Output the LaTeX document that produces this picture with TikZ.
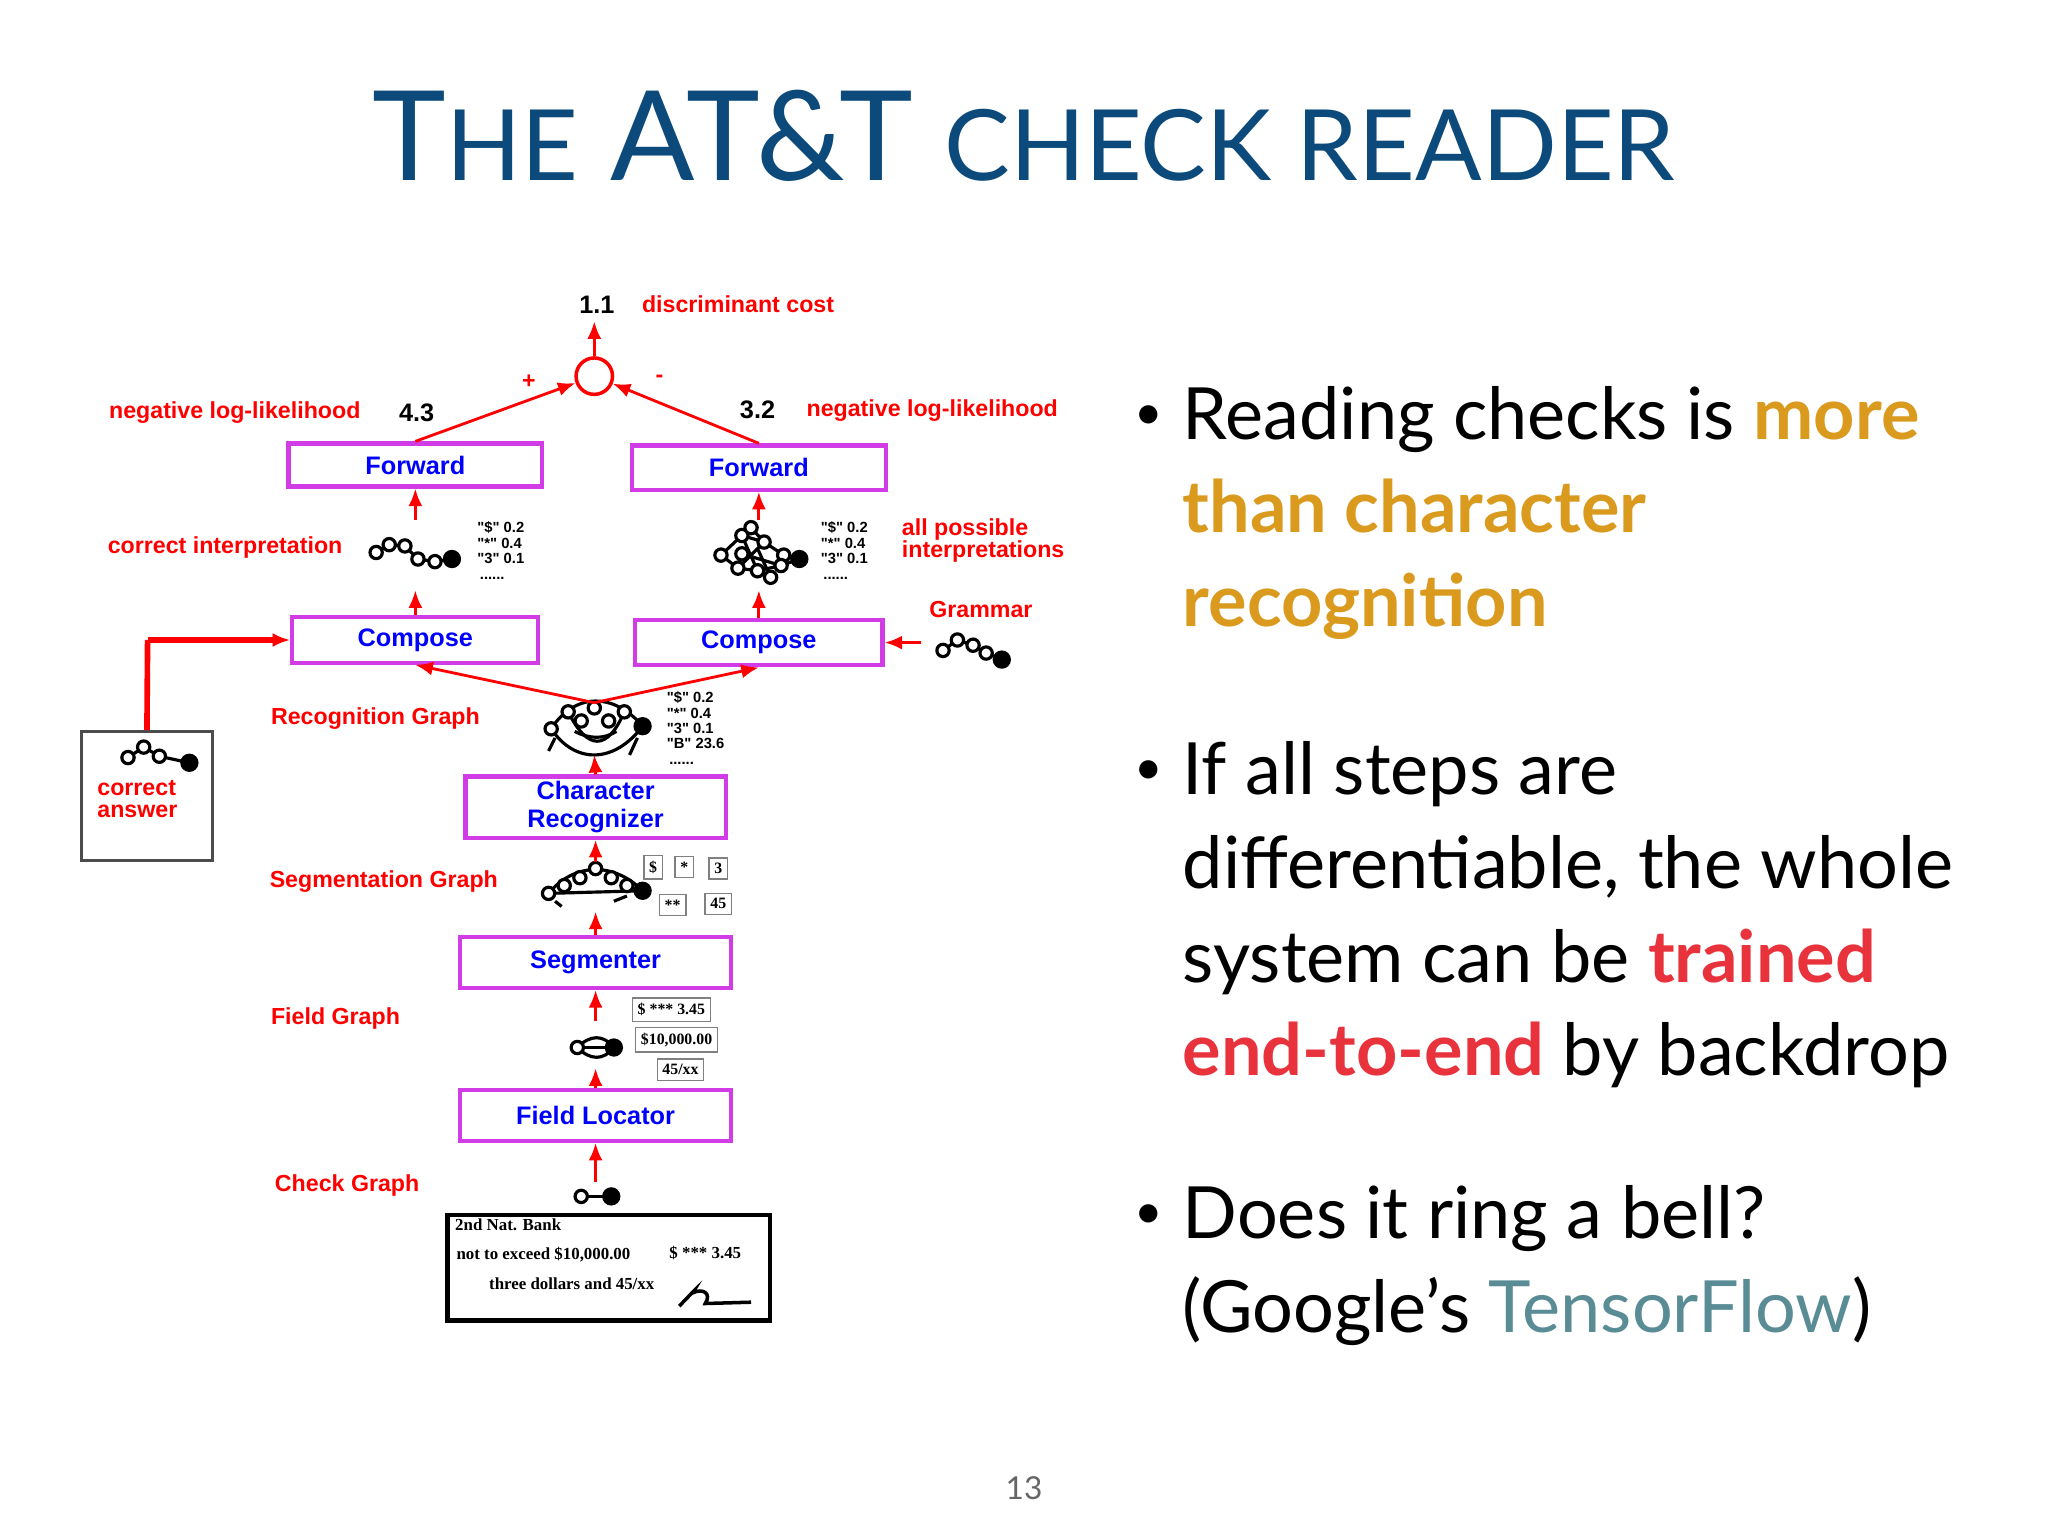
\documentclass[tikz,border=0pt]{standalone}
\usepackage{fontspec}
\setmainfont{Lato}
\newfontfamily\hv{Liberation Sans}
\newfontfamily\tm{Liberation Serif}
\usetikzlibrary{arrows.meta}
\definecolor{ttl}{HTML}{0B4A7A}
\definecolor{gold}{HTML}{D99A1E}
\definecolor{tred}{HTML}{E8323C}
\definecolor{tf}{HTML}{5A8C96}
\definecolor{mag}{HTML}{D23CE6}
\def\U{0.37034pt}
\begin{document}
\begin{tikzpicture}[x=0.013061cm,y=-0.013061cm,
  box/.style={draw=mag,line width=1.2pt,fill=white,font=\hv\bfseries\fontsize{7.2}{7.6}\selectfont,text=blue,align=center,inner sep=0pt},
  lab/.style={font=\hv\bfseries\fontsize{6.6}{7.2}\selectfont,text=red,align=left,inner sep=0pt},
  num/.style={font=\hv\bfseries\fontsize{7.2}{8}\selectfont,inner sep=0pt},
  sm/.style={font=\hv\bfseries\fontsize{4.2}{4.4}\selectfont,align=left,inner sep=0pt},
  arr/.style={draw=red,line width=0.8pt,-{Latex[length=5pt,width=4pt]}},
  nd/.style={circle,draw,line width=0.9pt,inner sep=0pt,minimum size=3.5pt,fill=white},
  ndf/.style={circle,draw,fill=black,inner sep=0pt,minimum size=4.3pt},
  bul/.style={font=\fontsize{20.5}{26.7}\selectfont,align=left,anchor=north west,inner sep=0pt},
  dot/.style={font=\fontsize{14}{16}\selectfont,anchor=north west,inner sep=0pt}]
\useasboundingbox (0,0) rectangle (1568,1176);
\fill[white] (0,0) rectangle (1568,1176);
% title
\node[text=ttl,anchor=base,inner sep=0pt] (title) at (784,138) {\fontsize{35.5}{38}\selectfont T{\fontsize{28}{30}\selectfont HE} AT\&T {\fontsize{28}{30}\selectfont CHECK READER}};
% boxes
\node[box,minimum width=195*\U,minimum height=33*\U] (fl) at (318,356) {Forward};
\node[box,minimum width=195*\U,minimum height=34*\U] (fr) at (581,358) {Forward};
\node[box,minimum width=189*\U,minimum height=35*\U] (cl) at (318,490) {Compose};
\node[box,minimum width=190*\U,minimum height=35*\U] (cr) at (581,492) {Compose};
\node[box,minimum width=200*\U,minimum height=47*\U,font=\hv\bfseries\fontsize{7.2}{7.8}\selectfont] (chr) at (456,618) {Character\\Recognizer};
\node[box,minimum width=208*\U,minimum height=39*\U] (seg) at (456,737) {Segmenter};
\node[box,minimum width=208*\U,minimum height=39*\U] (flo) at (456,854) {Field Locator};
\node[circle,draw=red,line width=1pt,minimum size=28*\U,inner sep=0pt] (sum) at (455,288) {};
\coordinate (top) at (455,246);
% labels
\node[num,anchor=west] (n11) at (443,233) {1.1};
\node[lab,anchor=west] (dc) at (491,233) {discriminant cost};
\node[lab] (plus) at (405,292) {+};
\node[lab] (minus) at (505,290) {-};
\node[lab,anchor=west] (nll1) at (83,316) {negative log-likelihood};
\node[num,anchor=west] (n43) at (305,316) {4.3};
\node[num,anchor=west] (n32) at (566,314) {3.2};
\node[lab,anchor=west] (nll2) at (617,314) {negative log-likelihood};
\node[lab,anchor=west] (ci) at (82,419) {correct interpretation};
\node[lab,anchor=west] (api) at (690,414) {all possible\\[-1pt]interpretations};
\node[lab,anchor=west] (gram) at (711,467) {Grammar};
\node[lab,anchor=west] (rg) at (207,550) {Recognition Graph};
\node[lab,anchor=west] (sg) at (206,675) {Segmentation Graph};
\node[lab,anchor=west] (fg) at (207,780) {Field Graph};
\node[lab,anchor=west] (cg) at (210,908) {Check Graph};
% score lists
\node[sm,anchor=north west] (s1) at (365,399) {"\$" 0.2\\"*" 0.4\\"3" 0.1\\\,......};
\node[sm,anchor=north west] (s2) at (628,399) {"\$" 0.2\\"*" 0.4\\"3" 0.1\\\,......};
\node[sm,anchor=north west] (s3) at (510,529) {"\$" 0.2\\"*" 0.4\\"3" 0.1\\"B" 23.6\\\,......};
% correct answer box
\node[draw=black!70,line width=0.9pt,minimum width=101*\U,minimum height=99*\U,inner sep=0pt] (ca) at (112.5,609.5) {};
\node[lab,anchor=north west] (cat) at (74,597) {correct\\[-1pt]answer};
\coordinate (cabend) at (113,490);
% graph glyphs
\begin{scope}[line width=0.9pt]
 \draw (288,423)--(298,417)--(310,418)--(320,428)--(333,430)--(346,428);
 \foreach \p in {(288,423),(298,417),(310,418),(320,428),(333,430)} \node[nd] at \p {};
 \node[ndf] (gci) at (346,428) {};
 \draw (552,425)--(568,410)--(585,415)--(600,425)--(612,428) (552,425)--(565,435)--(580,437)--(598,433)--(612,428) (568,410)--(580,437) (585,415)--(565,435) (575,404)--(585,415) (568,424)--(598,433) (580,420)--(590,442);
 \foreach \p in {(552,425),(568,410),(585,415),(600,425),(565,435),(580,437),(598,433),(575,404),(568,424),(590,442)} \node[nd] at \p {};
 \node[ndf] (gap) at (612,428) {};
 \draw (722,498)--(733,490)--(745,494)--(755,500)--(767,505);
 \foreach \p in {(722,498),(733,490),(745,494),(755,500)} \node[nd] at \p {};
 \node[ndf] (gg) at (767,505) {};
 \draw (98,580)--(110,572)--(122,579)--(145,584);
 \foreach \p in {(98,580),(110,572),(122,579)} \node[nd] at \p {};
 \node[ndf] (gca) at (145,584) {};
 % recognition graph
 \draw (422,558) .. controls (440,530) and (470,530) .. (492,556);
 \draw (422,558) .. controls (440,585) and (470,585) .. (492,556);
 \draw (435,545) .. controls (450,575) and (465,575) .. (478,545);
 \draw (440,560) .. controls (452,566) and (462,566) .. (472,560);
 \draw (425,565)--(420,575) (488,565)--(482,578);
 \foreach \p in {(422,558),(435,545),(455,542),(478,545),(445,552),(466,552)} \node[nd] at \p {};
 \node[ndf] (grg) at (492,556) {};
 \coordinate (rgtop) at (455,538);
 % segmentation graph
 \draw (420,684) .. controls (440,660) and (470,660) .. (492,682);
 \draw (420,684)--(492,682);
 \draw (425,690)--(430,694) (470,690)--(480,686);
 \foreach \p in {(420,684),(432,678),(444,672),(456,665),(468,672),(480,678)} \node[nd] at \p {};
 \node[ndf] (gsg) at (492,682) {};
 \coordinate (sgtop) at (456,660);
 % field graph
 \draw (442,802) .. controls (452,792) and (462,792) .. (470,802) .. controls (462,812) and (452,812) .. (442,802);
 \draw (442,802)--(470,802);
 \node[nd] at (442,802) {};
 \node[ndf] (gfg) at (470,802) {};
 \coordinate (fgtop) at (456,782);
 \coordinate (fgbot) at (456,818);
 % check graph
 \draw (445,916)--(468,916);
 \node[nd] at (445,916) {};
 \node[ndf] (gcg) at (468,916) {};
\end{scope}
% segment image boxes
\begin{scope}[every node/.style={draw=black!50,line width=0.4pt,font=\tm\bfseries\fontsize{4.5}{5}\selectfont,inner sep=1.5pt,minimum height=14*\U}]
 \node (b1) at (500,664) {\$};
 \node (b2) at (524,664) {*};
 \node (b3) at (550,665) {3};
 \node (b4) at (515,693) {**};
 \node (b5) at (550,692) {45};
 \node (f1) at (514,773) {\$ *** 3.45};
 \node (f2) at (518,796) {\$10,000.00};
 \node (f3) at (521,819) {45/xx};
\end{scope}
% check
\node[draw,line width=1.3pt,minimum width=248*\U,minimum height=81*\U,inner sep=0pt] (chk) at (466,970.5) {};
\begin{scope}[every node/.style={font=\tm\bfseries\fontsize{4.8}{5}\selectfont,inner sep=0pt,anchor=west}]
 \node (c1) at (348,938) {2nd Nat. Bank};
 \node (c2) at (349,961) {not to exceed \$10,000.00};
 \node (c3) at (512,959) {\$ *** 3.45};
 \node (c4) at (374,983) {three dollars and 45/xx};
\end{scope}
\draw[line width=1pt] (520,1000) .. controls (528,992) and (534,985) .. (530,990) .. controls (538,986) and (545,990) .. (540,998) -- (575,997);
% arrows
\draw[arr] (fl.north) -- (sum);
\draw[arr] (fr.north) -- (sum);
\draw[arr] (sum) -- (top);
\draw[arr] (318,398) -- (fl.south);
\draw[arr] (581,398) -- (fr.south);
\draw[arr] (cl.north) -- (318,452);
\draw[arr] (cr.north) -- (581,452);
\draw[arr] (rgtop) -- (cl.south);
\draw[arr] (rgtop) -- (cr.south);
\draw[arr] (705,492) -- (cr.east);
\draw[red,line width=1.6pt] (ca.north) -- (cabend);
\draw[arr,line width=1.6pt] (cabend) -- (cl.west);
\draw[arr] (chr.north) -- (455,578);
\draw[arr] (sgtop) -- (chr.south);
\draw[arr] (seg.north) -- (456,698);
\draw[arr] (fgtop) -- (seg.south);
\draw[arr] (flo.north) -- (fgbot);
\draw[arr] (456,905) -- (flo.south);
% bullets
\node[dot] (d1) at (868,310) {\textbullet};
\node[bul] (p1) at (905,295) {Reading checks is \textcolor{gold}{\bfseries more}\\\textcolor{gold}{\bfseries than character}\\\textcolor{gold}{\bfseries recognition}};
\node[dot] (d2) at (868,582) {\textbullet};
\node[bul] (p2) at (905,567) {If all steps are\\differentiable, the whole\\system can be \textcolor{tred}{\bfseries trained}\\\textcolor{tred}{\bfseries end-to-end} by backdrop};
\node[dot] (d3) at (868,922) {\textbullet};
\node[bul] (p3) at (905,907) {Does it ring a bell?\\(Google's \textcolor{tf}{TensorFlow})};
\node[text=black!60,font=\fontsize{9}{10}\selectfont] (pg) at (784,1139) {13};
\end{tikzpicture}
\end{document}
